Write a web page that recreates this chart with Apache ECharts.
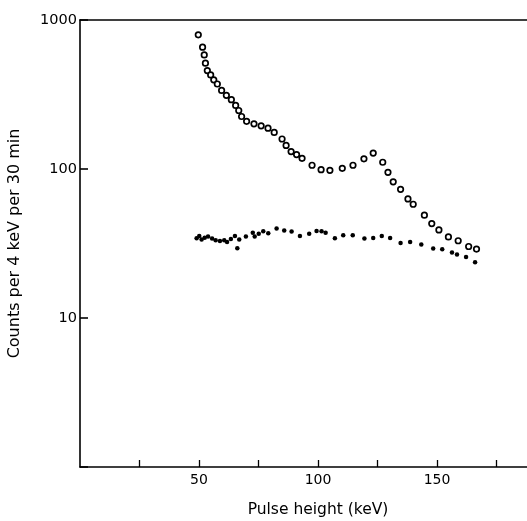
<!DOCTYPE html>
<html><head><meta charset="utf-8">
<script src="https://cdn.jsdelivr.net/npm/echarts@6/dist/echarts.min.js"></script>
<style>html,body{margin:0;padding:0;background:#fff}#c{width:527px;height:521px}</style>
</head><body><div id="c"></div>
<script>
// Open circles (upper spectrum)
const openX = [49.7,51.5,52.2,52.7,53.5,54.9,56.2,57.7,59.5,61.5,63.6,65.4,66.7,67.9,70.0,73.1,76.1,79.0,81.6,84.9,86.6,88.7,91.0,93.3,97.5,101.3,105.0,110.2,114.7,119.3,123.2,127.2,129.4,131.6,134.7,137.8,140.0,144.7,147.8,150.8,154.8,158.9,163.3,166.6];
const openY = [795,657,583,513,458,428,397,372,337,312,292,267,247,225,209,201,195,188,176,159,144,131,125,118,106,99,98,101,106,117,128,111,95,82,73,63,58,49,43,39,35,33,30.2,29];
// Filled dots (lower spectrum)
const fillX = [49.0,50.1,51.1,52.4,53.8,55.5,57.0,58.8,60.6,61.8,63.4,65.1,66.1,66.9,69.7,72.6,73.4,75.1,77.0,79.1,82.6,85.8,88.9,92.4,96.3,99.4,101.5,103.2,107.1,110.6,114.6,119.5,123.2,126.8,130.3,134.7,138.7,143.4,148.4,152.2,156.3,158.4,162.2,166.0];
const fillY = [34.3,35.5,33.7,34.6,35.2,34.1,33.2,32.9,33.2,32.4,33.9,35.5,29.4,33.7,35.2,37.4,35.2,36.8,38.2,37.0,39.8,38.6,38.0,35.5,36.8,38.4,38.2,37.4,34.3,35.9,35.9,34.1,34.4,35.5,34.4,31.9,32.4,31.1,29.3,28.9,27.5,26.7,25.7,23.7];
const xTicks = [25, 50, 75, 100, 125, 150, 175];
const xTickLabels = [50, 100, 150];
const yTickLabels = [10, 100, 1000];
const xTitle = 'Pulse height (keV)';
const yTitle = 'Counts per 4 keV per 30 min';

const font = 'DejaVu Sans';
const ink = '#000';
const chart = echarts.init(document.getElementById('c'), null, {renderer:'canvas'});
const pairs = (xs, ys) => xs.map((x, i) => [x, ys[i]]);
chart.setOption({
  animation: false,
  backgroundColor: '#fff',
  grid: {left: 80, right: -29, top: 20, bottom: 54, containLabel: false, outerBoundsMode: 'none'},
  xAxis: [{
    type: 'value', min: 0, max: 200, interval: 25,
    name: xTitle, nameLocation: 'middle', nameGap: 35,
    nameTextStyle: {fontFamily: font, fontSize: 15.5, color: ink},
    axisLine: {show: true, lineStyle: {color: ink, width: 1.6}},
    axisTick: {show: true, inside: true, length: 7, customValues: xTicks, lineStyle: {color: ink, width: 1.3}},
    axisLabel: {fontFamily: font, fontSize: 14, color: ink, margin: 6, customValues: xTickLabels,
      formatter: v => String(v)},
    splitLine: {show: false}
  }, {
    type: 'value', position: 'top', min: 0, max: 200,
    axisLine: {show: true, lineStyle: {color: ink, width: 1.6}},
    axisTick: {show: false}, axisLabel: {show: false}, splitLine: {show: false}
  }],
  yAxis: {
    type: 'log', logBase: 10, min: 1, max: 1000,
    name: yTitle, nameLocation: 'middle', nameGap: 57,
    nameTextStyle: {fontFamily: font, fontSize: 16, color: ink},
    axisLine: {show: true, lineStyle: {color: ink, width: 1.6}},
    axisTick: {show: true, inside: true, length: 8, lineStyle: {color: ink, width: 1.6}},
    axisLabel: {fontFamily: font, fontSize: 14.5, color: ink, margin: 3,
      formatter: v => yTickLabels.includes(Math.round(v)) ? String(Math.round(v)) : ''},
    splitLine: {show: false}
  },
  series: [{
    type: 'scatter', xAxisIndex: 0, data: pairs(openX, openY),
    symbol: 'circle', symbolSize: 5.5,
    itemStyle: {color: '#fff', borderColor: ink, borderWidth: 1.7, opacity: 1}
  }, {
    type: 'scatter', xAxisIndex: 0, data: pairs(fillX, fillY),
    symbol: 'circle', symbolSize: 4.5,
    itemStyle: {color: ink, opacity: 1}
  }]
});
</script></body></html>
